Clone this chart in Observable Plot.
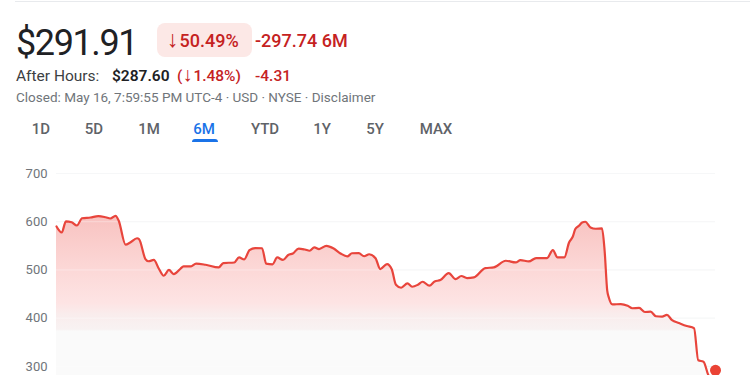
<!DOCTYPE html>
<html><head><meta charset="utf-8">
<script src="https://cdn.jsdelivr.net/npm/d3@7"></script>
<script src="https://cdn.jsdelivr.net/npm/@observablehq/plot@0.6"></script>
<style>
html,body{margin:0;padding:0;background:#fff;overflow:hidden;width:750px;height:375px}
body{font-family:Roboto,"Noto Sans",sans-serif;position:relative;color:#202124}
.abs{position:absolute;white-space:nowrap;line-height:1}
.topline{position:absolute;left:15px;right:0;top:1px;height:1px;background:#e8eaed}
.price{left:16px;top:24.7px;font-size:36px;letter-spacing:-1.4px;color:#202124}
.badge{position:absolute;left:156.7px;top:23.3px;width:95.6px;height:34px;border-radius:8px;background:#fce8e6}
.btxt{left:167px;top:31.5px;font-size:18px;font-weight:500;color:#c5221f}
.arr{font-size:23px;line-height:0;margin-right:1px}
.arr2{font-size:20px;line-height:0;margin-right:1px}
.chg{left:255px;top:31.5px;font-size:18px;font-weight:500;color:#c5221f}
.ah{top:69.3px;font-size:15.5px;color:#3c4043}
.ahb{top:69.3px;font-size:15.5px;font-weight:600;color:#202124}
.red{top:69.3px;font-size:15.5px;color:#c5221f;font-weight:500}
.closed{left:16px;top:91px;font-size:13.5px;color:#70757a}
.tab{top:121.7px;font-size:15px;font-weight:500;color:#5f6368;transform:translateX(-50%)}
.tab.on{color:#1a73e8}
.uline{position:absolute;left:192px;top:139.3px;width:26px;height:3px;background:#1a73e8;border-radius:3px 3px 0 0}
#chart{position:absolute;left:0;top:152px}
</style></head><body>
<div class="topline"></div>
<div class="abs price">$291.91</div>
<div class="badge"></div>
<div class="abs btxt"><span class="arr">↓</span>50.49%</div>
<div class="abs chg">-297.74 6M</div>
<div class="abs ah" style="left:16px">After Hours:</div>
<div class="abs ahb" style="left:112px">$287.60</div>
<div class="abs red" style="left:177px">(<span class="arr2">↓</span>1.48%)</div>
<div class="abs red" style="left:255px">-4.31</div>
<div class="abs closed">Closed: May 16, 7:59:55 PM UTC-4 · USD · NYSE · Disclaimer</div>
<div id="tabs"></div>
<div class="uline"></div>
<div id="chart"></div>
<script>
const tabLabels = ["1D","5D","1M","6M","YTD","1Y","5Y","MAX"];
const tabCenters = [41,94,149,204,265,322,375,436];
const activeTab = "6M";

const yTicks = [300,400,500,600,700];

const days = [0,1,1.8,2.9,3.9,4.9,6.5,8,9.4,10.3,11.3,11.9,13.2,14.1,15.4,15.8,17,17.6,18.6,19.6,
20.5,21.5,22.4,22.9,23.7,24.3,25.6,26.7,28.5,31,31.9,34,34.9,35.9,36.9,38,39.3,40.1,41.3,42.2,
43.3,44.3,45.2,46.3,47.5,48.4,49.3,50.2,51.6,53,54.3,55.6,56.5,57.8,58.8,59.8,61,61.9,63.2,64.1,
64.9,65.9,67.1,68,69.1,70,71.3,72.3,73.4,75,76.3,77.4,78.5,79.8,82,83.6,85.9,87.8,88.7,90.3,
91.7,93.8,94.9,95.8,97.1,98,98.7,99.2,99.9,100.5,101.1,102.1,103.1,104.3,104.8,105.3,105.6,106.3,107.9,109.2,
110.1,111.4,112.5,113.6,114.6,115.8,116.7,117.7,119,120.5,121.9,122.7,123.7,124.7,125.3,126];

const prices = [590.2,577.7,600.9,598.9,592.2,607.2,608.8,611.7,609.2,606.7,612.3,602,552.6,557,565.7,563.6,522.6,518,520.7,501.9,
488,500,491.5,494.2,502.5,507.3,507.3,513.1,510.8,505.2,514.3,515.5,525.9,521.8,541.2,545.4,545,513.1,511.6,525.9,
520.7,531.1,534.2,544.4,542.3,539.8,546.6,543.3,550,544.4,534.2,528,534.6,534.8,528.4,532.5,524.3,501.9,512.2,501.5,
469.3,463.1,472,465.2,469.3,475.5,467.3,476.2,479.1,493.6,481.1,487.4,483.2,484.5,503.9,505.2,519.1,515.5,520.5,517.6,
524.7,524.7,541.2,525.9,525.9,557,568.8,584.8,591.6,598.4,599.9,588.1,585.4,586,539.8,456.9,443,428.5,429.3,425.8,
420.6,421.2,412.8,413.4,404,403,406.7,395.8,390,383.7,379.2,312.6,309.7,280.7,276,291.91];

if (days.length !== prices.length) throw new Error("length mismatch " + days.length + " " + prices.length);

// tabs
const tabsEl = document.getElementById("tabs");
tabLabels.forEach((t, i) => {
  const d = document.createElement("div");
  d.className = "abs tab" + (t === activeTab ? " on" : "");
  d.style.left = tabCenters[i] + "px";
  d.textContent = t;
  tabsEl.appendChild(d);
});

const data = days.map((d, i) => ({d, v: prices[i]}));
const last = data[data.length - 1];
const yMin = 250;

const plot = Plot.plot({
  width: 750,
  height: 238,
  marginTop: 21,
  marginBottom: 0,
  marginLeft: 56,
  marginRight: 35,
  style: {fontFamily: "Roboto, sans-serif", fontSize: "13px", background: "transparent", overflow: "hidden"},
  x: {domain: [0, 126], axis: null},
  y: {domain: [yMin, 700], axis: null},
  marks: [
    Plot.ruleY(yTicks, {stroke: "#f1f3f4", strokeWidth: 1}),
    Plot.areaY(data, {x: "d", y1: yMin, y2: "v", fill: "url(#fillGrad)", curve: "monotone-x"}),
    Plot.ruleY(yTicks, {stroke: "#ffffff", strokeOpacity: 0.35, strokeWidth: 1}),
    Plot.axisY(yTicks, {tickSize: 0, tickPadding: 9, fill: "#70757a", fontSize: 13, textAnchor: "end", label: null}),
    Plot.line(data, {x: "d", y: "v", stroke: "#e8453c", strokeWidth: 2.2, curve: "monotone-x"}),
    Plot.dot([last], {x: "d", y: "v", r: 5.5, fill: "#ea4335", stroke: "none"})
  ]
});

const ys = plot.scale("y");
const gTop = ys.apply(612), gBot = ys.apply(yMin);
const off = v => Math.max(0, Math.min(1, (ys.apply(v) - gTop) / (gBot - gTop)));
const stops = [
  [612, "rgb(248,194,192)"],
  [500, "rgb(252,216,215)"],
  [430, "rgb(253,228,228)"],
  [408, "rgb(249,236,236)"],
  [376, "rgb(248,242,242)"],
  [372, "rgb(250,250,250)"],
  [yMin, "rgb(250,250,250)"]
];
const svg = d3.select(plot);
const grad = svg.insert("defs", ":first-child").append("linearGradient")
  .attr("id", "fillGrad").attr("gradientUnits", "userSpaceOnUse")
  .attr("x1", 0).attr("x2", 0).attr("y1", gTop).attr("y2", gBot);
stops.forEach(([v, c]) => grad.append("stop").attr("offset", off(v)).attr("stop-color", c));

document.getElementById("chart").appendChild(plot);
</script>
</body></html>
